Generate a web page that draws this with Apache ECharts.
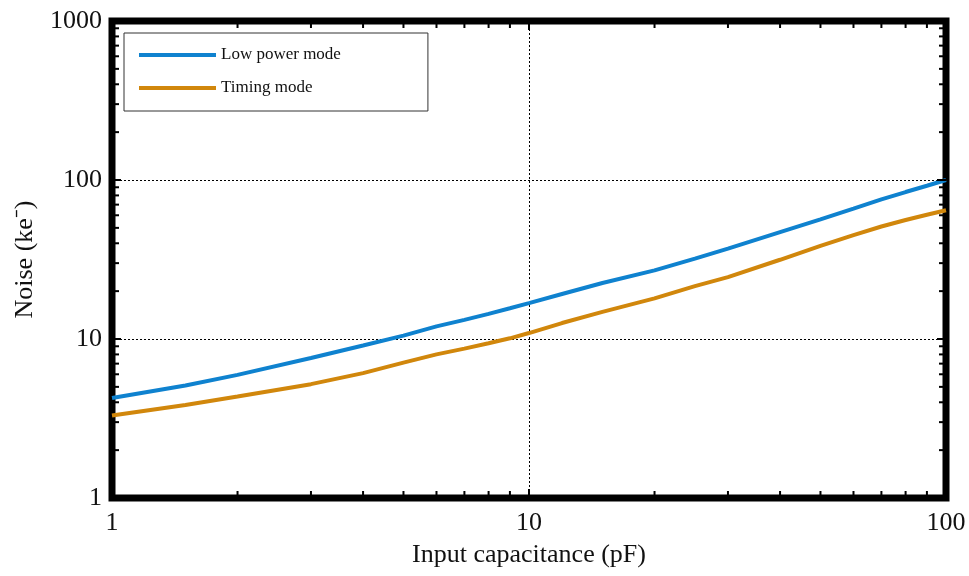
<!DOCTYPE html>
<html>
<head>
<meta charset="utf-8">
<script src="https://cdn.jsdelivr.net/npm/echarts@6/dist/echarts.min.js"></script>
<style>
  html, body { margin: 0; padding: 0; background: #fff; }
  #main { width: 969px; height: 576px; }
</style>
</head>
<body>
<div id="main"></div>
<script>
// input capacitance (pF)
var capacitance = [1, 1.5, 2, 3, 4, 5, 6, 7, 8, 9, 10, 12, 15, 20, 25, 30, 40, 50, 60, 70, 80, 90, 100];
// noise (ke-)
var lowPower = [4.25, 5.1, 5.95, 7.6, 9.1, 10.5, 12.0, 13.2, 14.4, 15.6, 16.8, 19.2, 22.5, 27.0, 32.0, 37.0, 47.0, 56.5, 66.0, 75.5, 84.0, 92.0, 100];
var timing   = [3.3, 3.85, 4.35, 5.2, 6.1, 7.1, 8.0, 8.7, 9.4, 10.1, 10.9, 12.6, 14.8, 18.0, 21.5, 24.5, 31.5, 38.5, 45.0, 51.0, 56.0, 60.5, 64.5];

var xMinorTicks = [2, 3, 4, 5, 6, 7, 8, 9, 20, 30, 40, 50, 60, 70, 80, 90];
var xMajorTicks = [10];
var yMinorTicks = [2, 3, 4, 5, 6, 7, 8, 9, 20, 30, 40, 50, 60, 70, 80, 90, 200, 300, 400, 500, 600, 700, 800, 900];
var yMajorTicks = [10, 100];

var X_MIN = 1, X_MAX = 100, Y_MIN = 1, Y_MAX = 1000;
var serif = "'Liberation Serif', 'Times New Roman', serif";

function pairs(xs, ys) {
    return xs.map(function (x, i) { return [x, ys[i]]; });
}

// tick marks drawn inward from the thick frame
function tickData() {
    var d = [];
    xMinorTicks.forEach(function (v) { d.push([v, 0, 0]); });
    xMajorTicks.forEach(function (v) { d.push([v, 0, 1]); });
    yMinorTicks.forEach(function (v) { d.push([v, 1, 0]); });
    yMajorTicks.forEach(function (v) { d.push([v, 1, 1]); });
    return d;
}

function renderTick(params, api) {
    var v = api.value(0), isY = api.value(1), major = api.value(2);
    var len = major ? 6 : 4;
    var w = 2;
    var inset = 3;
    var children = [];
    if (!isY) {
        var b = api.coord([v, Y_MIN]);
        var t = api.coord([v, Y_MAX]);
        children.push({ type: 'rect', shape: { x: b[0] - w / 2, y: b[1] - inset - len, width: w, height: len + inset }, style: { fill: '#000' } });
        children.push({ type: 'rect', shape: { x: t[0] - w / 2, y: t[1], width: w, height: len + inset }, style: { fill: '#000' } });
    } else {
        var l = api.coord([X_MIN, v]);
        var r = api.coord([X_MAX, v]);
        children.push({ type: 'rect', shape: { x: l[0], y: l[1] - w / 2, width: len + inset, height: w }, style: { fill: '#000' } });
        children.push({ type: 'rect', shape: { x: r[0] - inset - len, y: r[1] - w / 2, width: len + inset, height: w }, style: { fill: '#000' } });
    }
    return { type: 'group', children: children };
}

function plainNumber(v) {
    return String(Math.round(v));
}

var chart = echarts.init(document.getElementById('main'));
var option = {
    backgroundColor: '#fff',
    animation: false,
    textStyle: { fontFamily: serif },
    grid: {
        left: 112,
        right: 23,
        top: 21,
        bottom: 78,
        show: true,
        borderColor: '#000',
        borderWidth: 7,
        backgroundColor: 'transparent'
    },
    legend: {
        orient: 'vertical',
        left: 124,
        top: 33,
        padding: [12, 87, 13, 15],
        backgroundColor: '#fff',
        borderColor: '#333',
        borderWidth: 1,
        borderRadius: 0,
        icon: 'rect',
        itemWidth: 77,
        itemHeight: 4,
        itemGap: 13,
        textStyle: { fontFamily: serif, fontSize: 17, color: '#111', lineHeight: 20 },
        data: ['Low power mode', 'Timing mode']
    },
    xAxis: {
        type: 'log',
        logBase: 10,
        min: X_MIN,
        max: X_MAX,
        name: 'Input capacitance (pF)',
        nameLocation: 'middle',
        nameGap: 44,
        nameTextStyle: { fontFamily: serif, fontSize: 26, color: '#111' },
        axisLine: { show: false },
        axisTick: { show: false },
        axisLabel: { fontFamily: serif, fontSize: 26, color: '#111', margin: 12, formatter: plainNumber },
        splitLine: { show: true, lineStyle: { type: [2, 2], color: '#000', width: 1 } }
    },
    yAxis: {
        type: 'log',
        logBase: 10,
        min: Y_MIN,
        max: Y_MAX,
        name: 'Noise (ke\u207B)',
        nameLocation: 'middle',
        nameGap: 74,
        nameTextStyle: { fontFamily: serif, fontSize: 26, color: '#111' },
        axisLine: { show: false },
        axisTick: { show: false },
        axisLabel: { fontFamily: serif, fontSize: 26, color: '#111', margin: 10, formatter: plainNumber },
        splitLine: { show: true, lineStyle: { type: [2, 2], color: '#000', width: 1 } }
    },
    series: [
        {
            name: 'Low power mode',
            type: 'line',
            data: pairs(capacitance, lowPower),
            showSymbol: false,
            color: '#0F82CF',
            lineStyle: { width: 4, color: '#0F82CF' },
            z: 3
        },
        {
            name: 'Timing mode',
            type: 'line',
            data: pairs(capacitance, timing),
            showSymbol: false,
            color: '#D1870C',
            lineStyle: { width: 4, color: '#D1870C' },
            z: 3
        },
        {
            name: 'ticks',
            type: 'custom',
            renderItem: renderTick,
            data: tickData(),
            clip: false,
            silent: true,
            z: 4
        }
    ]
};
chart.setOption(option);
</script>
</body>
</html>
